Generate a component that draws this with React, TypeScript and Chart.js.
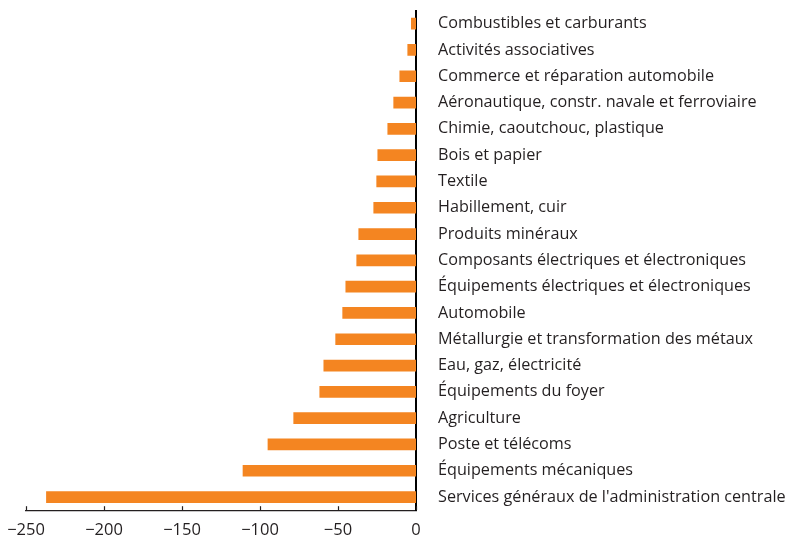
import React, { useEffect, useRef } from "react";
import { Chart, registerables } from "chart.js";

Chart.register(...registerables);

const categories: string[] = [
  "Combustibles et carburants",
  "Activités associatives",
  "Commerce et réparation automobile",
  "Aéronautique, constr. navale et ferroviaire",
  "Chimie, caoutchouc, plastique",
  "Bois et papier",
  "Textile",
  "Habillement, cuir",
  "Produits minéraux",
  "Composants électriques et électroniques",
  "Équipements électriques et électroniques",
  "Automobile",
  "Métallurgie et transformation des métaux",
  "Eau, gaz, électricité",
  "Équipements du foyer",
  "Agriculture",
  "Poste et télécoms",
  "Équipements mécaniques",
  "Services généraux de l'administration centrale",
];

const values: number[] = [
  -3, -5.3, -10.4, -14.3, -18.1, -24.5, -25.2, -27.1, -36.7, -38.0, -45.0, -47.0, -51.5, -59.1, -61.7, -78.4, -94.9, -110.9, -236.9,
];

const xTicks: number[] = [-250, -200, -150, -100, -50, 0];

const FONT = "'Open Sans', sans-serif";

export default function App() {
  const ref = useRef<HTMLCanvasElement | null>(null);

  useEffect(() => {
    if (!ref.current) return;
    const tickPlugin = {
      id: "innerTicks",
      afterDraw(chart: any) {
        const ctx = chart.ctx;
        const xs = chart.scales.x;
        const bottom = chart.chartArea.bottom;
        ctx.save();
        ctx.strokeStyle = "#231f20";
        ctx.lineWidth = 1.2;
        xTicks.forEach((v) => {
          const px = Math.round(xs.getPixelForValue(v)) + 0.5;
          ctx.beginPath();
          ctx.moveTo(px, bottom);
          ctx.lineTo(px, bottom - 4);
          ctx.stroke();
        });
        ctx.restore();
      },
    };
    const chart = new Chart(ref.current, {
      type: "bar",
      data: {
        labels: categories,
        datasets: [
          {
            data: values,
            backgroundColor: "#F48521",
            borderWidth: 0,
            barThickness: 11,
          },
        ],
      },
      options: {
        indexAxis: "y",
        animation: false,
        responsive: false,
        maintainAspectRatio: false,
        layout: { padding: { left: 26, top: 10.5, right: 0, bottom: 0 } },
        plugins: {
          legend: { display: false },
          tooltip: { enabled: false },
          title: { display: false },
        },
        scales: {
          x: {
            type: "linear",
            min: -250,
            max: 0,
            afterBuildTicks: (scale: any) => {
              scale.ticks = xTicks.map((v) => ({ value: v }));
            },
            afterFit: (scale: any) => {
              scale.height = 24.8;
              scale.paddingLeft = 0;
              scale.paddingRight = 0;
            },
            grid: { display: false, drawTicks: false },
            border: { display: true, color: "#231f20", width: 1.2 },
            ticks: {
              padding: 10,
              color: "#231f20",
              font: { family: FONT, size: 16.5 },
              callback: (v: any) => (Number(v) < 0 ? "\u2212" + Math.abs(Number(v)) : String(v)),
              maxRotation: 0,
              autoSkip: false,
            },
          },
          y: {
            position: "right",
            afterFit: (scale: any) => {
              scale.width = 374;
              scale.paddingTop = 0;
              scale.paddingBottom = 0;
            },
            grid: { display: false, drawTicks: false },
            border: { display: true, color: "#000000", width: 2 },
            ticks: {
              padding: 22,
              color: "#231f20",
              font: { family: FONT, size: 16.2 },
              autoSkip: false,
            },
          },
        },
      },
      plugins: [tickPlugin],
    });
    return () => chart.destroy();
  }, []);

  return (
    <div style={{ position: "fixed", left: 0, top: 0, width: 790, height: 535, background: "#fff" }}>
      <canvas ref={ref} width={790} height={535} style={{ width: 790, height: 535 }} />
    </div>
  );
}
